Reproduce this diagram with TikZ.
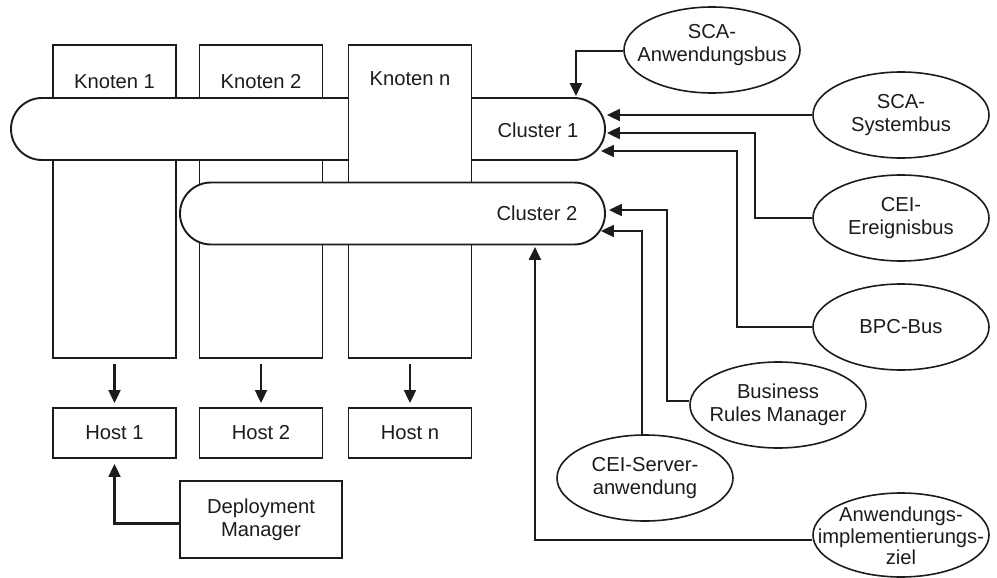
\documentclass[tikz,border=0pt]{standalone}
\usepackage{fontspec}
\setmainfont{Liberation Sans}
\usetikzlibrary{arrows.meta,calc,shapes.geometric}
\definecolor{ink}{RGB}{30,27,28}
\begin{document}
\begin{tikzpicture}[x=1pt,y=-1pt,
  every node/.style={font=\fontsize{20.2}{23}\selectfont, text=ink},
  box/.style={draw=ink, line width=1.9pt, fill=white, inner sep=0pt, minimum width=123pt},
  knot/.style={box, minimum height=313pt},
  host/.style={box, minimum height=50pt},
  cluster/.style={draw=ink, line width=1.9pt, fill=white, rounded corners=31pt, inner sep=0pt, minimum height=62pt},
  bus/.style={ellipse, draw=ink, line width=1.6pt, fill=white, inner sep=0pt, minimum width=176pt, minimum height=86pt},
  busl/.style={align=center, inner sep=0pt},
  arr/.style={draw=ink, line width=2.1pt, -{Triangle[length=13pt,width=12pt]}},
]
\useasboundingbox (0,0) rectangle (997,578);

% Knoten 1 and 2 (below cluster 1)
\node[knot] (k1) at (114.5,201.5) {};
\node[knot] (k2) at (261,201.5) {};
\node (k1t) at (114.5,82) {Knoten 1};
\node (k2t) at (261,82) {Knoten 2};

% Cluster 1
\node[cluster, minimum width=594pt] (c1) at (308,129) {};
\node (c1t) at (538,130) {Cluster 1};

% Knoten n (above cluster 1)
\node[knot] (kn) at (410,201.5) {};
\node (knt) at (410,79) {Knoten n};

% Cluster 2 (above all)
\node[cluster, minimum width=425pt] (c2) at (392.5,213.5) {};
\node (c2t) at (537,213) {Cluster 2};

% Hosts
\node[host] (h1) at (114.5,433) {Host 1};
\node[host] (h2) at (261,433) {Host 2};
\node[host] (hn) at (410,433) {Host n};

\draw[arr] ($(k1.south)+(0,5)$) -- ($(h1.north)+(0,-4)$);
\draw[arr] ($(k2.south)+(0,5)$) -- ($(h2.north)+(0,-4)$);
\draw[arr] ($(kn.south)+(0,5)$) -- ($(hn.north)+(0,-4)$);

% Deployment Manager
\node[box, minimum width=162pt, minimum height=77pt, align=center] (dm) at (261,519.5) {Deployment\\Manager};
\draw[arr] ($(dm.west)+(0,4)$) -| ($(h1.south)+(0,5)$);

% Ellipses
\node[bus, label={[busl, yshift=5pt]center:SCA-\\Anwendungsbus}] (sca1) at (712,50) {};
\node[bus, label={[busl]center:SCA-\\Systembus}] (sys) at (901,115) {};
\node[bus, label={[busl]center:CEI-\\Ereignisbus}] (cei) at (901,218) {};
\node[bus, label={[busl]center:BPC-Bus}] (bpc) at (901,327) {};
\node[bus, label={[busl]center:Business\\Rules Manager}] (brm) at (778,405) {};
\node[bus, label={[busl]center:CEI-Server-\\anwendung}] (srv) at (645,478) {};
\node[bus, minimum height=84pt, label={[busl, font=\fontsize{20.2}{21.5}\selectfont, yshift=-1pt]center:Anwendungs-\\implementierungs-\\ziel}] (ziel) at (901,535) {};

% Connectors to Cluster 1
\draw[arr] ($(sca1.west)+(0,1)$) -| ($(c1.north east)+(-30,-1)$);
\draw[arr] (sys.west) -- ($(sys.west -| c1.east)+(1,0)$);
\draw[arr] (cei.west) -- ++(-57,0) |- ($(c1.east)+(1,4)$);
\draw[arr] (bpc.west) -- ++(-75,0) |- ($(c1.east)+(-5,22)$);

% Connectors to Cluster 2
\draw[arr] ($(brm.west)+(0,-4)$) -- ++(-22,0) |- ($(c2.east)+(3,-3.5)$);
\draw[arr] ($(srv.north)+(-3,0)$) |- ($(c2.east)+(-5,17.5)$);
\draw[arr] ($(ziel.west)+(0,5)$) -| ($(c2.south east)+(-71,1.5)$);
\end{tikzpicture}
\end{document}
